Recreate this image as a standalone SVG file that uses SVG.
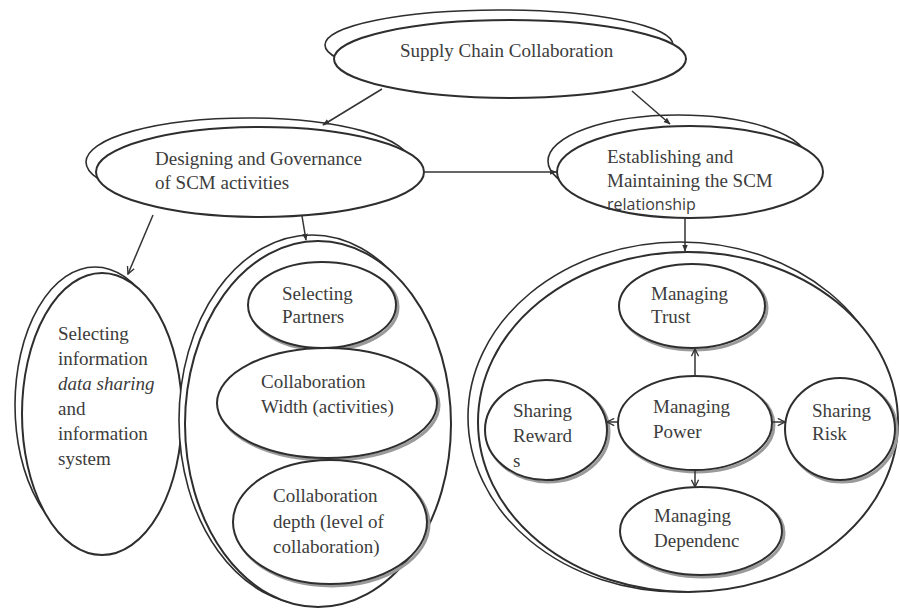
<svg xmlns="http://www.w3.org/2000/svg" width="900" height="616" viewBox="0 0 900 616">
<defs>
<style>
.bg{fill:#fff;stroke:none}
.sh{fill:#fff;stroke:#2e2e2e;stroke-width:1.6}
.ol{fill:#fff;stroke:#2e2e2e;stroke-width:2}
.ds{fill:none;stroke:#9a9a9a;stroke-width:3}
.t{font-family:"Liberation Serif","Times New Roman",serif;font-size:19px;fill:#3c3c3c}
.it{font-style:italic}
.sans{font-family:"Open Sans","Noto Sans",sans-serif;font-size:16px;fill:#3c3c3c}
.c{fill:none;stroke:#333;stroke-width:1.5}
</style>
<marker id="af" viewBox="0 0 10 10" refX="9" refY="5" markerWidth="7" markerHeight="7" orient="auto" markerUnits="userSpaceOnUse">
<path d="M0,1 L10,5 L0,9 z" fill="#333"/>
</marker>
<marker id="ao" viewBox="0 0 10 10" refX="9" refY="5" markerWidth="9" markerHeight="9" orient="auto" markerUnits="userSpaceOnUse">
<path d="M1,1 L9,5 L1,9" fill="none" stroke="#333" stroke-width="1.5"/>
</marker>
<clipPath id="depClip"><ellipse cx="701" cy="531" rx="80" ry="43"/></clipPath>
</defs>
<rect class="bg" width="900" height="616"/>

<g id="supply-chain-collaboration">
<ellipse class="sh" cx="499" cy="45" rx="174" ry="35"/>
<ellipse class="ol" cx="510" cy="59" rx="176" ry="39"/>
<text class="t" x="400" y="57">Supply Chain Collaboration</text>
</g>

<g id="designing-governance">
<ellipse class="sh" cx="248" cy="162" rx="162" ry="44"/>
<ellipse class="ol" cx="260" cy="172" rx="164" ry="45"/>
<text class="t" x="155" y="165">Designing and Governance</text>
<text class="t" x="155" y="189">of SCM activities</text>
</g>

<g id="establishing-maintaining">
<ellipse class="sh" cx="678" cy="161" rx="130" ry="46"/>
<ellipse class="ol" cx="690" cy="172" rx="133" ry="46"/>
<text class="t" x="607" y="163">Establishing and</text>
<text class="t" x="607" y="187">Maintaining the SCM</text>
<text class="sans" x="607" y="210">relationship</text>
</g>

<g id="selecting-information">
<ellipse class="sh" cx="95" cy="405" rx="80" ry="138"/>
<ellipse class="ol" cx="102" cy="414" rx="80" ry="141"/>
<text class="t" x="58" y="340">Selecting</text>
<text class="t" x="58" y="365">information</text>
<text class="t it" x="58" y="390">data sharing</text>
<text class="t" x="58" y="415">and</text>
<text class="t" x="58" y="440">information</text>
<text class="t" x="58" y="465">system</text>
</g>

<g id="design-group">
<ellipse class="sh" cx="312" cy="420" rx="133" ry="185"/>
<ellipse class="ol" cx="318" cy="424" rx="133" ry="183"/>
</g>

<g id="selecting-partners">
<ellipse class="ds" cx="324" cy="307" rx="74" ry="43"/>
<ellipse class="ol" cx="322" cy="305" rx="74" ry="43"/>
<text class="t" x="282" y="300">Selecting</text>
<text class="t" x="282" y="323">Partners</text>
</g>

<g id="collaboration-width">
<ellipse class="ds" cx="329" cy="405" rx="110" ry="55"/>
<ellipse class="ol" cx="327" cy="403" rx="110" ry="55"/>
<text class="t" x="261" y="388">Collaboration</text>
<text class="t" x="261" y="413">Width (activities)</text>
</g>

<g id="collaboration-depth">
<ellipse class="ds" cx="332" cy="524" rx="97" ry="62"/>
<ellipse class="ol" cx="330" cy="522" rx="97" ry="62"/>
<text class="t" x="273" y="502">Collaboration</text>
<text class="t" x="273" y="528">depth (level of</text>
<text class="t" x="273" y="553">collaboration)</text>
</g>

<g id="relationship-group">
<ellipse class="sh" cx="680" cy="417" rx="212" ry="175"/>
<ellipse class="ol" cx="688" cy="422" rx="210" ry="170"/>
</g>

<g id="managing-trust">
<ellipse class="ds" cx="694" cy="308" rx="73" ry="42"/>
<ellipse class="ol" cx="692" cy="306" rx="73" ry="42"/>
<text class="t" x="651" y="300">Managing</text>
<text class="t" x="651" y="323">Trust</text>
</g>

<g id="managing-power">
<ellipse class="ds" cx="697" cy="425" rx="77" ry="47"/>
<ellipse class="ol" cx="695" cy="423" rx="77" ry="47"/>
<text class="t" x="653" y="413">Managing</text>
<text class="t" x="653" y="438">Power</text>
</g>

<g id="sharing-rewards">
<ellipse class="ds" cx="548" cy="432" rx="61" ry="50"/>
<ellipse class="ol" cx="546" cy="430" rx="61" ry="50"/>
<text class="t" x="513" y="417">Sharing</text>
<text class="t" x="513" y="442">Reward</text>
<text class="t" x="513" y="467">s</text>
</g>

<g id="sharing-risk">
<ellipse class="ds" cx="842" cy="431" rx="55" ry="51"/>
<ellipse class="ol" cx="840" cy="429" rx="55" ry="51"/>
<text class="t" x="812" y="417">Sharing</text>
<text class="t" x="812" y="440">Risk</text>
</g>

<g id="managing-dependence">
<ellipse class="ds" cx="703" cy="533" rx="81" ry="44"/>
<ellipse class="ol" cx="701" cy="531" rx="81" ry="44"/>
<text class="t" x="654" y="522">Managing</text>
<text class="t" x="654" y="547">Dependenc</text>
<text class="t" x="654" y="580" clip-path="url(#depClip)">e</text>
</g>

<g id="connectors">
<line class="c" x1="382" y1="89" x2="323" y2="125" marker-end="url(#af)"/>
<line class="c" x1="632" y1="91" x2="670" y2="124" marker-end="url(#af)"/>
<line class="c" x1="424" y1="172" x2="556" y2="172" marker-end="url(#af)"/>
<line class="c" x1="153" y1="215" x2="128" y2="274" marker-end="url(#ao)"/>
<line class="c" x1="302" y1="216" x2="306" y2="240" marker-end="url(#af)"/>
<line class="c" x1="685" y1="218" x2="685" y2="251" marker-end="url(#af)"/>
<line class="c" x1="695" y1="376" x2="695" y2="349" marker-end="url(#ao)"/>
<line class="c" x1="618" y1="422" x2="607" y2="422" marker-end="url(#ao)"/>
<line class="c" x1="772" y1="422" x2="785" y2="422" marker-end="url(#ao)"/>
<line class="c" x1="695" y1="470" x2="695" y2="487" marker-end="url(#ao)"/>
</g>
</svg>
